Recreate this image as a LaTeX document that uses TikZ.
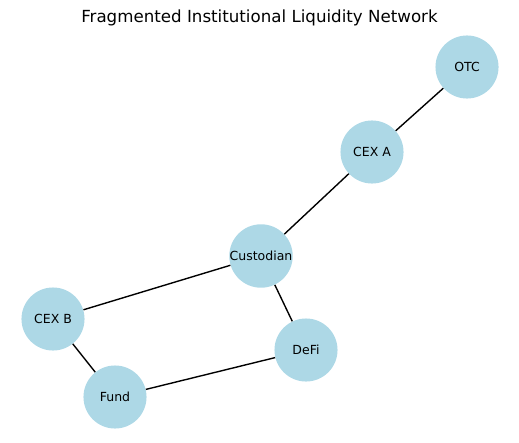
\documentclass[tikz,border=0pt]{standalone}
\usepackage{fontspec}
\setmainfont{DejaVu Sans}
\definecolor{azulclaro}{HTML}{ADD8E6}
\tikzset{
  nodo/.style={circle, fill=azulclaro, minimum size=45.4pt, inner sep=0pt,
    font=\fontsize{9}{11}\selectfont},
  arista/.style={black, line width=1pt}
}
\begin{document}
\begin{tikzpicture}[x=0.72pt, y=-0.72pt]

  \useasboundingbox (0,0) rectangle (519,442);

  % Titulo
  \node[font=\fontsize{12}{14}\selectfont] (titulo) at (259.5,18)
    {Fragmented Institutional Liquidity Network};

  % Nodos
  \node[nodo] (otc) at (467,67) {OTC};
  \node[nodo] (cexa) at (372,152) {CEX A};
  \node[nodo] (custodian) at (261,256) {Custodian};
  \node[nodo] (cexb) at (53,319) {CEX B};
  \node[nodo] (defi) at (306,350) {DeFi};
  \node[nodo] (fund) at (115,397) {Fund};

  % Aristas
  \draw[arista] (otc) -- (cexa);
  \draw[arista] (cexa) -- (custodian);
  \draw[arista] (custodian) -- (cexb);
  \draw[arista] (custodian) -- (defi);
  \draw[arista] (cexb) -- (fund);
  \draw[arista] (fund) -- (defi);

\end{tikzpicture}
\end{document}
